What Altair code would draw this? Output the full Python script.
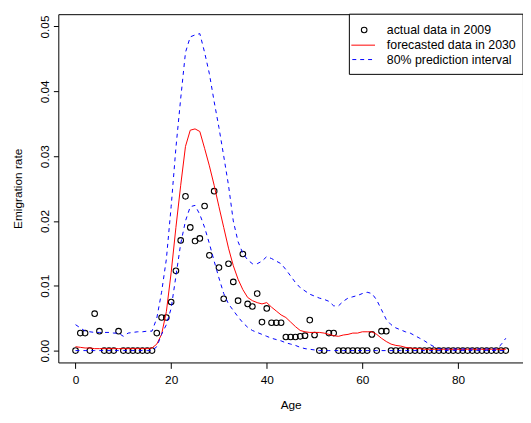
import altair as alt
import pandas as pd

ages = list(range(0, 91))

actual_2009 = [
    0.0, 0.0027, 0.0027, 0.0, 0.0057, 0.0030, 0.0, 0.0, 0.0, 0.0030,
    0.0, 0.0, 0.0, 0.0, 0.0, 0.0, 0.0, 0.0027, 0.0051, 0.0051,
    0.0075, 0.0123, 0.0170, 0.0238, 0.0190, 0.0169, 0.0173, 0.0223, 0.0147, 0.0246,
    0.0128, 0.0080, 0.0134, 0.0106, 0.0077, 0.0149, 0.0072, 0.0068, 0.0088, 0.0044,
    0.0065, 0.0043, 0.0043, 0.0043, 0.0021, 0.0021, 0.0021, 0.0022, 0.0023, 0.0047,
    0.0024, 0.0, 0.0, 0.0027, 0.0027, 0.0, 0.0, 0.0, 0.0, 0.0,
    0.0, 0.0, 0.0025, 0.0, 0.0030, 0.0030, 0.0, 0.0, 0.0, 0.0,
    0.0, 0.0, 0.0, 0.0, 0.0, 0.0, 0.0, 0.0, 0.0, 0.0,
    0.0, 0.0, 0.0, 0.0, 0.0, 0.0, 0.0, 0.0, 0.0, 0.0,
    0.0,
]

forecast_2030 = [
    0.0006, 0.0005, 0.0004, 0.0004, 0.0003, 0.0003, 0.0003, 0.0003, 0.0003, 0.0003,
    0.0003, 0.0003, 0.0003, 0.0003, 0.0003, 0.0003, 0.0004, 0.0010, 0.0025, 0.0060,
    0.0120, 0.0190, 0.0255, 0.0315, 0.0340, 0.0342, 0.0338, 0.0312, 0.0285, 0.0255,
    0.0222, 0.0190, 0.0158, 0.0131, 0.0110, 0.0094, 0.0082, 0.0077, 0.0074, 0.0072,
    0.0074, 0.0067, 0.0061, 0.0055, 0.0051, 0.0044, 0.0037, 0.0031, 0.0029, 0.0028,
    0.0028, 0.0028, 0.0027, 0.0025, 0.0023, 0.0022, 0.0024, 0.0025, 0.0027, 0.0027,
    0.0029, 0.0029, 0.0029, 0.0025, 0.0019, 0.0014, 0.0010, 0.0008, 0.0007, 0.0005,
    0.0004, 0.0003, 0.0003, 0.0002, 0.0002, 0.0002, 0.0002, 0.0002, 0.0002, 0.0002,
    0.0002, 0.0002, 0.0002, 0.0002, 0.0002, 0.0002, 0.0002, 0.0002, 0.0002, 0.0002,
    0.0002,
]

upper_80 = [
    0.0040, 0.0035, 0.0030, 0.0029, 0.0028, 0.0028, 0.0028, 0.0028, 0.0027, 0.0027,
    0.0022, 0.0027, 0.0028, 0.0029, 0.0029, 0.0030, 0.0030, 0.0050, 0.0090, 0.0141,
    0.0222, 0.0313, 0.0389, 0.0460, 0.0484, 0.0487, 0.0489, 0.0460, 0.0427, 0.0384,
    0.0344, 0.0300, 0.0255, 0.0200, 0.0168, 0.0150, 0.0140, 0.0134, 0.0134, 0.0138,
    0.0145, 0.0142, 0.0138, 0.0134, 0.0125, 0.0115, 0.0105, 0.0097, 0.0092, 0.0087,
    0.0084, 0.0081, 0.0079, 0.0076, 0.0069, 0.0069, 0.0076, 0.0081, 0.0083, 0.0085,
    0.0088, 0.0090, 0.0088, 0.0078, 0.0063, 0.0048, 0.0040, 0.0035, 0.0032, 0.0029,
    0.0027, 0.0023, 0.0019, 0.0015, 0.0010, 0.0006, 0.0003, 0.00025, 0.00025, 0.00025,
    0.00025, 0.00025, 0.00025, 0.00025, 0.00025, 0.00025, 0.00025, 0.00025, 0.00025, 0.0009,
    0.0019,
]

lower_80 = [
    0.0, 0.0, 0.0, 0.0, 0.0, 0.0, 0.0, 0.0, 0.0, 0.0,
    0.0, 0.0, 0.0, 0.0, 0.0, 0.0, 0.0, 0.0006, 0.0025, 0.0040,
    0.0065, 0.0115, 0.0165, 0.0200, 0.0222, 0.0224, 0.0210, 0.0190, 0.0165, 0.0138,
    0.0112, 0.0088, 0.0072, 0.0062, 0.0052, 0.0043, 0.0036, 0.0031, 0.0028, 0.0025,
    0.0022, 0.0019, 0.0017, 0.0015, 0.0012, 0.0010, 0.0008, 0.0005, 0.0003, 0.0002,
    0.0001, 0.0, 0.0, 0.0, 0.0, 0.0, 0.0, 0.0, 0.0, 0.0,
    0.0, 0.0, 0.0, 0.0, 0.0, 0.0, 0.0, 0.0, 0.0, 0.0,
    0.0, 0.0, 0.0, 0.0, 0.0, 0.0, 0.0, 0.0, 0.0, 0.0,
    0.0, 0.0, 0.0, 0.0, 0.0, 0.0, 0.0, 0.0, 0.0, 0.0,
    0.0,
]

x_ticks = [0, 20, 40, 60, 80]
y_ticks = [0.0, 0.01, 0.02, 0.03, 0.04, 0.05]
legend_labels = ["actual data in 2009", "forecasted data in 2030", "80% prediction interval"]

df = pd.DataFrame({
    "age": ages,
    "actual": actual_2009,
    "forecast": forecast_2030,
    "upper": upper_80,
    "lower": lower_80,
})

FONT = "Liberation Sans"
W, H = 471, 353

xscale = alt.Scale(domain=[-3.6, 93.6], nice=False, zero=False)
yscale = alt.Scale(domain=[-0.00183, 0.0519], nice=False, zero=False)

xaxis = alt.Axis(
    values=x_ticks, format="d", title="Age", grid=False, domain=False,
    tickColor="black", tickSize=6, labelPadding=6, labelBaseline="top",
    labelFont=FONT, labelFontSize=12, labelColor="black", labelFlush=False,
    titleFont=FONT, titleFontSize=12, titleFontWeight="normal", titleColor="black",
    titleX=W / 2, titleY=47, titleAlign="center", titleBaseline="alphabetic",
)
yaxis = alt.Axis(
    values=y_ticks, format=".2f", title="Emigration rate", grid=False, domain=False,
    tickColor="black", tickSize=5, labelPadding=4.5, labelAngle=270,
    labelAlign="center", labelBaseline="alphabetic", labelOverlap=False,
    labelFont=FONT, labelFontSize=12, labelColor="black", labelFlush=False,
    titleFont=FONT, titleFontSize=12, titleFontWeight="normal", titleColor="black",
    titleAngle=270, titleX=-37, titleY=H / 2, titleAlign="center", titleBaseline="alphabetic",
)

base = alt.Chart(df)

points = base.mark_point(shape="circle", filled=False, stroke="black", size=32, strokeWidth=1.1, opacity=1).encode(
    x=alt.X("age:Q", scale=xscale, axis=xaxis),
    y=alt.Y("actual:Q", scale=yscale, axis=yaxis),
)
forecast_line = base.mark_line(stroke="#FF0000", strokeWidth=1).encode(
    x=alt.X("age:Q", scale=xscale), y=alt.Y("forecast:Q", scale=yscale)
)
upper_line = base.mark_line(stroke="#0000FF", strokeWidth=1, strokeDash=[4, 4]).encode(
    x=alt.X("age:Q", scale=xscale), y=alt.Y("upper:Q", scale=yscale)
)
lower_line = base.mark_line(stroke="#0000FF", strokeWidth=1, strokeDash=[4, 4]).encode(
    x=alt.X("age:Q", scale=xscale), y=alt.Y("lower:Q", scale=yscale)
)

one = alt.Data(values=[{"k": 1}])
legend_box = alt.Chart(one).mark_rect(fill="white", stroke="black", strokeWidth=1).encode(
    x=alt.value(295), x2=alt.value(W), y=alt.value(0), y2=alt.value(61)
)
leg_pt = alt.Chart(one).mark_point(shape="circle", filled=False, stroke="black", size=32, strokeWidth=1.1, opacity=1).encode(
    x=alt.value(310), y=alt.value(16)
)
leg_red = alt.Chart(one).mark_rule(stroke="#FF0000", strokeWidth=1).encode(
    x=alt.value(297), x2=alt.value(321), y=alt.value(31.4)
)
leg_blue = alt.Chart(one).mark_rule(stroke="#0000FF", strokeWidth=1, strokeDash=[4, 4]).encode(
    x=alt.value(298), x2=alt.value(321), y=alt.value(46)
)
leg_texts = []
for i, lab in enumerate(legend_labels):
    leg_texts.append(
        alt.Chart(one).mark_text(
            text=lab, align="left", baseline="middle", font=FONT, fontSize=12.5, color="black"
        ).encode(x=alt.value(333), y=alt.value(16 + i * 15))
    )

chart = alt.layer(
    points, forecast_line, upper_line, lower_line,
    legend_box, leg_pt, leg_red, leg_blue, *leg_texts,
).properties(
    width=W, height=H,
    padding={"left": 51, "top": 3.5, "right": 0, "bottom": 50},
    autosize=alt.AutoSizeParams(type="none"),
    background="white",
).configure_view(stroke="black", strokeWidth=1)

chart.save("out.html", embed_options={"renderer": "svg", "actions": False})
